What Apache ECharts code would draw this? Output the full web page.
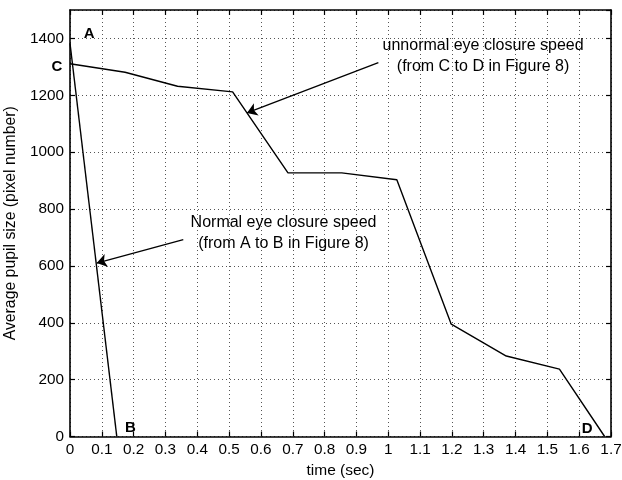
<!DOCTYPE html>
<html>
<head>
<meta charset="utf-8">
<script src="https://cdn.jsdelivr.net/npm/echarts@6/dist/echarts.min.js"></script>
<style>
html,body{margin:0;padding:0;background:#fff;}
#chart{width:622px;height:480px;}
</style>
</head>
<body>
<div id="chart"></div>
<script>
// Data
var normalTime = [0, 0.147];
var normalSize = [1383, 0];
var unnormalTime = [0, 0.173, 0.338, 0.511, 0.685, 0.854, 1.027, 1.198, 1.371, 1.538, 1.680];
var unnormalSize = [1311, 1281, 1232, 1212, 927, 927, 903, 395, 283, 237, 0];

var xMin = 0, xMax = 1.7, xStep = 0.1;
var yMin = 0, yMax = 1500, yStep = 200;

var pointLabels = ['A', 'B', 'C', 'D'];
var pointLabelPos = [[0.06, 1415], [0.19, 30], [-0.041, 1300], [1.625, 28]];

var noteNormal = ['Normal eye closure speed', '(from A to B in Figure 8)'];
var noteNormalPos = [0.671, 716];
var noteNormalArrow = [[0.356, 692], [0.084, 610]];

var noteUnnormal = ['unnormal eye closure speed', '(from C to D in Figure 8)'];
var noteUnnormalPos = [1.298, 1337];
var noteUnnormalArrow = [[0.969, 1315], [0.556, 1138]];

function zip(a, b) { return a.map(function (v, i) { return [v, b[i]]; }); }

var FONT = 'Liberation Sans, Arial, Helvetica, sans-serif';
var chart = echarts.init(document.getElementById('chart'), null, {renderer: 'canvas'});

var axisLine = {show: true, onZero: false, lineStyle: {color: '#000', width: 1.6}};
var axisTick = {show: true, inside: true, length: 5, lineStyle: {color: '#000', width: 1.2}};
var splitLine = {show: true, lineStyle: {color: '#555', width: 1, type: [1, 3]}};
var fmt = function (v) { return String(parseFloat((+v).toFixed(2))); };

var option = {
  animation: false,
  backgroundColor: '#fff',
  grid: {left: 70, right: 11, top: 10, bottom: 43.5, containLabel: false, outerBoundsMode: 'none'},
  xAxis: [{
    type: 'value', min: xMin, max: xMax, interval: xStep, position: 'bottom',
    name: 'time (sec)', nameLocation: 'middle', nameGap: 16,
    nameTextStyle: {fontFamily: FONT, fontSize: 15.5, color: '#000', verticalAlign: 'top'},
    axisLine: axisLine, axisTick: axisTick, splitLine: splitLine,
    axisLabel: {fontFamily: FONT, fontSize: 15.3, color: '#000', margin: 6, formatter: fmt}
  }, {
    type: 'value', min: xMin, max: xMax, interval: xStep, position: 'top',
    axisLine: axisLine, axisTick: axisTick, splitLine: {show: false}, axisLabel: {show: false}
  }],
  yAxis: [{
    type: 'value', min: yMin, max: yMax, interval: yStep, position: 'left',
    name: 'Average pupil size (pixel number)', nameLocation: 'middle', nameGap: 50,
    nameTextStyle: {fontFamily: FONT, fontSize: 15.8, color: '#000'},
    axisLine: axisLine, axisTick: axisTick, splitLine: splitLine,
    axisLabel: {fontFamily: FONT, fontSize: 15.3, color: '#000', margin: 6, showMaxLabel: false,
      formatter: function (v) { return v >= yMax ? '' : String(v); }}
  }, {
    type: 'value', min: yMin, max: yMax, interval: yStep, position: 'right',
    axisLine: axisLine, axisTick: axisTick, splitLine: {show: false}, axisLabel: {show: false}
  }],
  series: [{
    type: 'line', name: 'normal', data: zip(normalTime, normalSize), showSymbol: false, symbol: 'none',
    lineStyle: {color: '#000', width: 1.4}, z: 3,
    markLine: {
      silent: true, symbol: ['none', 'arrow'], symbolSize: 10, precision: 4,
      itemStyle: {color: '#000'},
      lineStyle: {color: '#000', width: 1.3, type: 'solid'}, label: {show: false},
      emphasis: {disabled: true},
      data: [[{coord: noteNormalArrow[0]}, {coord: noteNormalArrow[1]}],
             [{coord: noteUnnormalArrow[0]}, {coord: noteUnnormalArrow[1]}]]
    }
  }, {
    type: 'line', name: 'unnormal', data: zip(unnormalTime, unnormalSize), showSymbol: false, symbol: 'none',
    lineStyle: {color: '#000', width: 1.4}, z: 3
  }]
};
chart.setOption(option);

// Text annotations placed at data positions through the axes
function px(p) { return chart.convertToPixel({xAxisIndex: 0, yAxisIndex: 0}, p); }
var graphics = [];
pointLabels.forEach(function (t, i) {
  var p = px(pointLabelPos[i]);
  graphics.push({type: 'text', x: p[0], y: p[1], z: 10, silent: true,
    style: {text: t, fill: '#000', font: 'bold 15px ' + FONT, align: 'center', verticalAlign: 'middle'}});
});
[[noteNormal, noteNormalPos], [noteUnnormal, noteUnnormalPos]].forEach(function (n) {
  var p = px(n[1]);
  graphics.push({type: 'text', x: p[0], y: p[1], z: 10, silent: true,
    style: {text: n[0].join('\n'), fill: '#000', font: '16px ' + FONT, lineHeight: 21,
      align: 'center', verticalAlign: 'middle'}});
});
chart.setOption({graphic: graphics});
</script>
</body>
</html>
